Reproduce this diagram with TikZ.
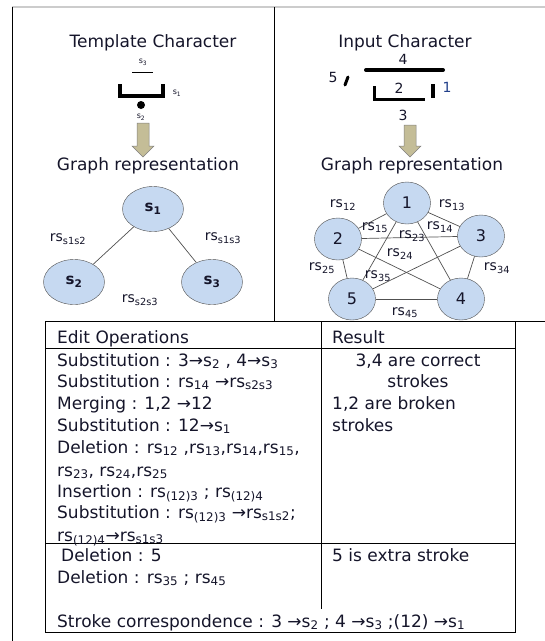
\documentclass[tikz,border=0pt]{standalone}
\usepackage{fontspec}
\setmainfont{DejaVu Sans}
\usetikzlibrary{shapes.geometric}
\definecolor{nodefill}{HTML}{C6D9F1}
\definecolor{nodeline}{HTML}{505050}
\definecolor{arrowfill}{HTML}{C4BD97}
\definecolor{txt}{HTML}{15152A}
\definecolor{numblue}{HTML}{22408A}
\tikzset{
  title/.style={font=\fontsize{17}{20}\selectfont, text=txt, inner sep=0, anchor=base},
  cell/.style={font=\fontsize{17}{20}\selectfont, text=txt, inner sep=0, anchor=base west},
  cellc/.style={font=\fontsize{17}{20}\selectfont, text=txt, inner sep=0, anchor=base},
  gnode/.style={ellipse, draw=nodeline, fill=nodefill, inner sep=0, text=txt},
  tnode/.style={gnode, minimum width=61pt, minimum height=45pt, font=\bfseries\fontsize{15}{17}\selectfont},
  inode/.style={gnode, minimum width=47pt, minimum height=42pt, font=\fontsize{16}{18}\selectfont},
  edge/.style={draw=nodeline, line width=0.7pt},
  elab/.style={font=\fontsize{14}{16}\selectfont, text=txt, inner sep=0},
  tiny/.style={font=\fontsize{8}{9}\selectfont, text=txt, inner sep=0},
  glab/.style={font=\fontsize{14}{16}\selectfont, text=txt, inner sep=0},
  rule/.style={draw=black, line width=1pt},
  bigarrow/.style={fill=arrowfill, draw=gray, line width=0.5pt},
  stroke/.style={line width=4pt, line cap=round, line join=round}
}
\begin{document}
\begin{tikzpicture}[x=1pt,y=-1pt]
\useasboundingbox (0,0) rectangle (545,641);
% frame
\draw[draw=black!20, line width=2pt] (12,7) -- (545,7);
\draw[rule] (12,7) -- (12,641);
\draw[rule] (274,7) -- (274,321);
\draw[rule] (45,321) -- (545,321);
% table
\draw[rule] (45,321) -- (45,632) -- (515,632) -- (515,321);
\draw[rule] (45,348) -- (515,348);
\draw[rule] (45,543) -- (515,543);
\draw[rule] (321,321) -- (321,609);

% ---- left: template character
\node[title] (tt) at (153,47) {Template Character};
\draw[line width=1pt] (132,72) -- (153,72);
\node[tiny] (ls3) at (143,62) {s\textsubscript{3}};
\draw[stroke, line cap=butt, line join=miter] (120,84) -- (120,96) -- (163,96) -- (163,84);
\node[tiny] (ls1) at (177,93) {s\textsubscript{1}};
\fill (141,105) circle (4);
\node[tiny] (ls2) at (141,117) {s\textsubscript{2}};
\draw[bigarrow] (137,123) -- (149,123) -- (149,146) -- (154,146) -- (143,157) -- (132,146) -- (137,146) -- cycle;
\node[title] (tg) at (148,170) {Graph representation};

\node[tnode] (s1) at (153,209) {s\textsubscript{1}};
\node[tnode] (s2) at (74,282) {s\textsubscript{2}};
\node[tnode] (s3) at (212,282) {s\textsubscript{3}};
\draw[edge] (s1) -- (s2);
\draw[edge] (s1) -- (s3);
\node[elab] (l12) at (68,239) {rs\textsubscript{s1s2}};
\node[elab] (l13) at (223,238) {rs\textsubscript{s1s3}};
\node[elab] (l23) at (140,300) {rs\textsubscript{s2s3}};

% ---- right: input character
\node[title] (it) at (405,47) {Input Character};
\draw[stroke] (366,70) -- (443,70);
\node[glab] (g4) at (403,59) {4};
\node[glab] (g5) at (333,77) {5};
\draw[line width=3pt, line cap=round] (345,85) -- (348,77);
\draw[line width=3pt, line join=miter] (374,86) -- (374,99) -- (425,99);
\node[glab] (g2) at (399,88) {2};
\draw[line width=4pt] (433,84) -- (433,98);
\node[glab, text=numblue] (g1) at (447,87) {1};
\node[glab] (g3) at (403,115) {3};
\draw[bigarrow] (404,125) -- (416,125) -- (416,146) -- (421,146) -- (410,157) -- (399,146) -- (404,146) -- cycle;
\node[title] (ig) at (412,170) {Graph representation};

\node[inode] (n1) at (407,203) {1};
\node[inode] (n2) at (338,239) {2};
\node[inode] (n3) at (481,236) {3};
\node[inode] (n4) at (461,299) {4};
\node[inode] (n5) at (352,299) {5};
\draw[edge] (n1) -- (n2);
\draw[edge] (n1) -- (n3);
\draw[edge] (n1) -- (n4);
\draw[edge] (n1) -- (n5);
\draw[edge] (n2) -- (n3);
\draw[edge] (n2) -- (n4);
\draw[edge] (n2) -- (n5);
\draw[edge] (n3) -- (n4);
\draw[edge] (n3) -- (n5);
\draw[edge] (n4) -- (n5);
\node[elab] (r12) at (343,205) {rs\textsubscript{12}};
\node[elab] (r13) at (452,205) {rs\textsubscript{13}};
\node[elab] (r15) at (375,228) {rs\textsubscript{15}};
\node[elab] (r23) at (412,236) {rs\textsubscript{23}};
\node[elab] (r14) at (440,227) {rs\textsubscript{14}};
\node[elab] (r24) at (400,254) {rs\textsubscript{24}};
\node[elab] (r25) at (322,268) {rs\textsubscript{25}};
\node[elab] (r34) at (497,268) {rs\textsubscript{34}};
\node[elab] (r35) at (378,276) {rs\textsubscript{35}};
\node[elab] (r45) at (405,313) {rs\textsubscript{45}};

% ---- table text
\node[cell] (h1) at (57,343) {Edit Operations};
\node[cell] (h2) at (332,343) {Result};
\node[cell] (o1) at (57,366) {Substitution : 3→s\textsubscript{2} , 4→s\textsubscript{3}};
\node[cell] (o2) at (57,387) {Substitution : rs\textsubscript{14} →rs\textsubscript{s2s3}};
\node[cell] (o3) at (57,409) {Merging : 1,2 →12};
\node[cell] (o4) at (57,431) {Substitution : 12→s\textsubscript{1}};
\node[cell] (o5) at (57,453) {Deletion : rs\textsubscript{12} ,rs\textsubscript{13},rs\textsubscript{14},rs\textsubscript{15},};
\node[cell] (o6) at (57,476) {rs\textsubscript{23}, rs\textsubscript{24},rs\textsubscript{25}};
\node[cell] (o7) at (57,497) {Insertion : rs\textsubscript{(12)3} ; rs\textsubscript{(12)4}};
\node[cell] (o8) at (57,518) {Substitution : rs\textsubscript{(12)3} →rs\textsubscript{s1s2};};
\node[cell] (o9) at (57,541) {rs\textsubscript{(12)4}→rs\textsubscript{s1s3}};
\node[cell] (o10) at (61,561) {Deletion : 5};
\node[cell] (o11) at (57,583) {Deletion : rs\textsubscript{35} ; rs\textsubscript{45}};
\node[cell] (o12) at (57,627) {Stroke correspondence : 3 →s\textsubscript{2} ; 4 →s\textsubscript{3} ;(12) →s\textsubscript{1}};
\node[cellc] (q1) at (418,366) {3,4 are correct};
\node[cellc] (q2) at (418,387) {strokes};
\node[cell] (q3) at (332,409) {1,2 are broken};
\node[cell] (q4) at (332,431) {strokes};
\node[cell] (q5) at (332,561) {5 is extra stroke};
\end{tikzpicture}
\end{document}
